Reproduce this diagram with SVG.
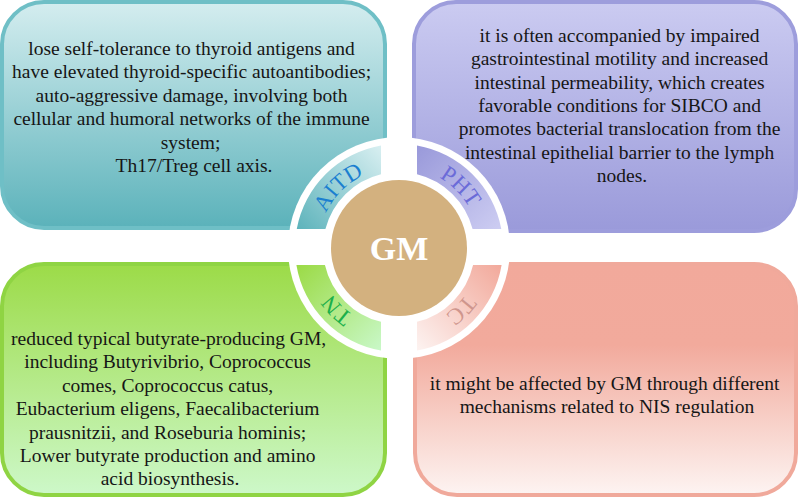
<svg xmlns="http://www.w3.org/2000/svg" width="800" height="498" viewBox="0 0 800 498">
<style>
.box{stroke-width:4}
.body{font-family:"Liberation Serif","Times New Roman",serif;font-size:19.5px;fill:#161616;text-anchor:middle}
.lbl{font-family:"Liberation Serif","Times New Roman",serif;font-size:23px}
.gm{font-family:"Liberation Serif","Times New Roman",serif;font-size:34px;font-weight:bold;fill:#fff;text-anchor:middle}
</style>
<defs>
<mask id="cut" maskUnits="userSpaceOnUse" x="0" y="0" width="800" height="498">
<rect width="800" height="498" fill="#fff"/>
<circle cx="399" cy="248" r="111" fill="#000"/>
</mask>
<linearGradient id="gTL" x1="0" y1="0" x2="0" y2="1"><stop offset="0" stop-color="#d4edef"/><stop offset="1" stop-color="#5bb2ba"/></linearGradient>
<linearGradient id="gTR" x1="0" y1="0" x2="0" y2="1"><stop offset="0" stop-color="#cbcbf1"/><stop offset="1" stop-color="#9a9ada"/></linearGradient>
<linearGradient id="gBL" x1="0" y1="0" x2="0" y2="1"><stop offset="0" stop-color="#9cdb48"/><stop offset="1" stop-color="#cdf8c9"/></linearGradient>
<linearGradient id="gBR" x1="0" y1="0" x2="0" y2="1"><stop offset="0" stop-color="#f2a99b"/><stop offset="0.35" stop-color="#f2aa9c"/><stop offset="1" stop-color="#fdf4f2"/></linearGradient>
<linearGradient id="bTL" gradientUnits="userSpaceOnUse" x1="381" y1="146" x2="297" y2="229"><stop offset="0" stop-color="#d8eff1"/><stop offset="1" stop-color="#5db3bb"/></linearGradient>
<linearGradient id="bTR" gradientUnits="userSpaceOnUse" x1="417" y1="146" x2="501" y2="229"><stop offset="0" stop-color="#9999da"/><stop offset="1" stop-color="#cdcdf2"/></linearGradient>
<linearGradient id="bBL" gradientUnits="userSpaceOnUse" x1="300" y1="265" x2="381" y2="350"><stop offset="0" stop-color="#9cdb48"/><stop offset="1" stop-color="#c9f8c8"/></linearGradient>
<linearGradient id="bBR" gradientUnits="userSpaceOnUse" x1="501" y1="265" x2="417" y2="350"><stop offset="0" stop-color="#f2a99b"/><stop offset="1" stop-color="#fdf3f1"/></linearGradient>
<path id="pTL" d="M318.31,240.94 A81,81 0 0 1 391.94,167.31"/>
<path id="pTR" d="M406.06,167.31 A81,81 0 0 1 479.69,240.94"/>
<path id="pBR" d="M479.69,255.06 A81,81 0 0 1 406.06,328.69"/>
<path id="pBL" d="M391.94,328.69 A81,81 0 0 1 318.31,255.06"/>
</defs>
<rect width="800" height="498" fill="#fff"/>
<g id="connectors"/>
<g id="node-AITD">
<rect class="box" x="2" y="2" width="383" height="226" rx="42" fill="url(#gTL)" stroke="#6fbfc6" mask="url(#cut)"/>
<path d="M296.75,229 A104,104 0 0 1 381,145.57 L381,174.16 A76,76 0 0 0 325.41,229 Z" fill="url(#bTL)"/>
<text class="lbl" fill="#1b7fd0"><textPath href="#pTL" startOffset="50%" text-anchor="middle">AITD</textPath></text>
<text class="body">
<tspan x="194" y="55">lose self-tolerance to thyroid antigens and</tspan>
<tspan x="194" y="78.4">have elevated thyroid-specific autoantibodies;</tspan>
<tspan x="194" y="101.8">auto-aggressive damage, involving both</tspan>
<tspan x="194" y="125.2">cellular and humoral networks of the immune</tspan>
<tspan x="193" y="148.6">system;</tspan>
<tspan x="194" y="172">Th17/Treg cell axis.</tspan>
</text>
</g>
<g id="node-PHT">
<rect class="box" x="414" y="2" width="382" height="229" rx="42" fill="url(#gTR)" stroke="#9d9ddc" mask="url(#cut)"/>
<path d="M417,145.57 A104,104 0 0 1 501.25,229 L472.59,229 A76,76 0 0 0 417,174.16 Z" fill="url(#bTR)"/>
<text class="lbl" fill="#6b6bd8"><textPath href="#pTR" startOffset="50%" text-anchor="middle">PHT</textPath></text>
<text class="body">
<tspan x="622" y="42">it is often accompanied by impaired</tspan>
<tspan x="622" y="65.3">gastrointestinal motility and increased</tspan>
<tspan x="622" y="88.6">intestinal permeability, which creates</tspan>
<tspan x="622" y="112">favorable conditions for SIBCO and</tspan>
<tspan x="622" y="135.3">promotes bacterial translocation from the</tspan>
<tspan x="622" y="158.6">intestinal epithelial barrier to the lymph</tspan>
<tspan x="622" y="182">nodes.</tspan>
</text>
</g>
<g id="node-TN">
<rect class="box" x="2" y="264" width="383" height="231" rx="42" fill="url(#gBL)" stroke="#8fd443" mask="url(#cut)"/>
<path d="M381,350.43 A104,104 0 0 1 296.4,265 L324.93,265 A76,76 0 0 0 381,321.84 Z" fill="url(#bBL)"/>
<text class="lbl" fill="#1cb04b"><textPath href="#pBL" startOffset="50%" text-anchor="middle">TN</textPath></text>
<text class="body">
<tspan x="171" y="345">reduced typical butyrate-producing GM,</tspan>
<tspan x="170" y="368.4">including Butyrivibrio, Coprococcus</tspan>
<tspan x="170" y="391.8">comes, Coprococcus catus,</tspan>
<tspan x="170" y="415.2">Eubacterium eligens, Faecalibacterium</tspan>
<tspan x="170" y="438.6">prausnitzii, and Roseburia hominis;</tspan>
<tspan x="170" y="462">Lower butyrate production and amino</tspan>
<tspan x="170" y="485.4">acid biosynthesis.</tspan>
</text>
</g>
<g id="node-TC">
<rect class="box" x="415" y="264" width="381" height="231" rx="42" fill="url(#gBR)" stroke="#f0a99b" mask="url(#cut)"/>
<path d="M501.6,265 A104,104 0 0 1 417,350.43 L417,321.84 A76,76 0 0 0 473.07,265 Z" fill="url(#bBR)"/>
<text class="lbl" fill="#cf968d"><textPath href="#pBR" startOffset="50%" text-anchor="middle">TC</textPath></text>
<text class="body">
<tspan x="607" y="390">it might be affected by GM through different</tspan>
<tspan x="607" y="413">mechanisms related to NIS regulation</tspan>
</text>
</g>
<g id="node-GM">
<circle cx="399" cy="248" r="68" fill="#d3b17f"/>
<text class="gm" x="399" y="260">GM</text>
</g>
</svg>
